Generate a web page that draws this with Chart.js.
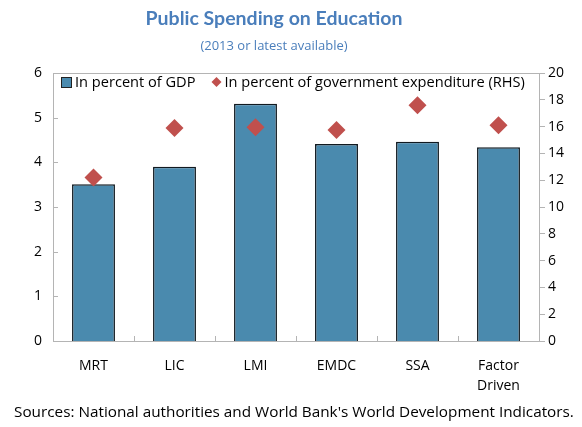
<!DOCTYPE html>
<html>
<head>
<meta charset="utf-8">
<script src="https://cdn.jsdelivr.net/npm/chart.js@4/dist/chart.umd.min.js"></script>
<style>
  html, body { margin: 0; padding: 0; background: #fff; }
  #wrap { position: relative; width: 582px; height: 427px; overflow: hidden; font-family: "Open Sans", "Noto Sans", sans-serif; }
  #title { position: absolute; left: 0; width: 548px; top: 6px; text-align: center; font-weight: bold; font-size: 19.5px; color: #4a7ebb; font-family: Lato, "Open Sans", sans-serif; }
  #subtitle { position: absolute; left: 0; width: 548px; top: 36px; text-align: center; font-size: 13px; color: #4a7ebb; }
  #source { position: absolute; left: 14px; top: 401px; font-size: 15.3px; color: #000; white-space: nowrap; }
  canvas { position: absolute; left: 0; top: 0; }
</style>
</head>
<body>
<div id="wrap">
  <canvas id="c" width="582" height="427"></canvas>
  <div id="title">Public Spending on Education</div>
  <div id="subtitle">(2013 or latest available)</div>
  <div id="source">Sources: National authorities and World Bank's World Development Indicators.</div>
</div>
<script>
const categories = ["MRT", "LIC", "LMI", "EMDC", "SSA", ["Factor", "Driven"]];
const pctGDP = [3.51, 3.90, 5.31, 4.41, 4.46, 4.34];
const pctGovExp = [12.2, 15.9, 15.95, 15.75, 17.6, 16.1];
const leftTicks = [0, 1, 2, 3, 4, 5, 6];
const rightTicks = [0, 2, 4, 6, 8, 10, 12, 14, 16, 18, 20];

const AXIS = '#b4b4b4';
const FONT = '"Open Sans", "Noto Sans", sans-serif';

const decor = {
  id: 'decor',
  afterDraw(chart) {
    const ctx = chart.ctx;
    const a = chart.chartArea;
    const x = chart.scales.x, y = chart.scales.y;
    ctx.save();
    ctx.strokeStyle = AXIS;
    ctx.lineWidth = 1;
    ctx.beginPath();
    ctx.moveTo(a.left, a.top + 0.5);
    ctx.lineTo(a.right, a.top + 0.5);
    ctx.stroke();
    y.ticks.forEach((t, i) => {
      const py = Math.round(y.getPixelForTick(i)) + 0.5;
      ctx.beginPath();
      ctx.moveTo(a.left, py);
      ctx.lineTo(a.left + 5, py);
      ctx.stroke();
    });
    const n = x.ticks.length;
    const half = (x.getPixelForTick(1) - x.getPixelForTick(0)) / 2;
    for (let i = 1; i < n; i++) {
      const px = Math.round(x.getPixelForTick(i) - half) + 0.5;
      ctx.beginPath();
      ctx.moveTo(px, a.bottom);
      ctx.lineTo(px, a.bottom - 5);
      ctx.stroke();
    }
    const ds = chart.data.datasets;
    const bar = ds.find(d => d.type === 'bar');
    const pts = ds.find(d => d.type === 'line');
    ctx.font = '14.6px ' + FONT;
    ctx.textBaseline = 'middle';
    const lx = a.left + 8, ly = a.top + 9;
    ctx.fillStyle = bar.backgroundColor;
    ctx.fillRect(lx, ly - 5, 11, 11);
    ctx.strokeStyle = '#222';
    ctx.strokeRect(lx + 0.5, ly - 4.5, 10, 10);
    ctx.fillStyle = '#000';
    ctx.fillText(bar.label, lx + 14, ly + 1);
    const lx2 = lx + 14 + ctx.measureText(bar.label).width + 21;
    ctx.fillStyle = pts.backgroundColor;
    ctx.beginPath();
    ctx.moveTo(lx2, ly - 5); ctx.lineTo(lx2 + 5, ly); ctx.lineTo(lx2, ly + 5); ctx.lineTo(lx2 - 5, ly); ctx.closePath();
    ctx.fill();
    ctx.fillStyle = '#000';
    ctx.fillText(pts.label, lx2 + 8, ly + 1);
    ctx.restore();
  }
};

new Chart(document.getElementById('c'), {
  data: {
    labels: categories,
    datasets: [
      {
        type: 'bar',
        label: 'In percent of GDP',
        data: pctGDP,
        yAxisID: 'y',
        backgroundColor: '#4a8aae',
        borderColor: '#111a20',
        borderWidth: 1.5,
        categoryPercentage: 1,
        barPercentage: 0.53,
        order: 1
      },
      {
        type: 'line',
        label: 'In percent of government expenditure (RHS)',
        data: pctGovExp,
        yAxisID: 'y2',
        showLine: false,
        pointStyle: 'rectRot',
        pointRadius: 9,
        pointHoverRadius: 9,
        backgroundColor: '#c0504d',
        borderColor: '#c0504d',
        borderWidth: 0,
        order: 0
      }
    ]
  },
  options: {
    responsive: false,
    animation: false,
    layout: { padding: { top: 73, left: 0, right: 0, bottom: 0 } },
    plugins: { legend: { display: false }, tooltip: { enabled: false }, title: { display: false } },
    scales: {
      x: {
        offset: true,
        grid: { display: false, drawTicks: false },
        border: { display: true, color: AXIS },
        ticks: { color: '#000', font: { family: FONT, size: 14, lineHeight: 1.45 }, padding: 15, maxRotation: 0, autoSkip: false },
        afterFit(s) { s.height = 86; }
      },
      y: {
        position: 'left',
        min: 0, max: 6,
        afterBuildTicks(s) { s.ticks = leftTicks.map(v => ({ value: v })); },
        grid: { display: false, drawTicks: false },
        border: { display: true, color: AXIS },
        ticks: { color: '#000', font: { family: FONT, size: 14 }, padding: 11 },
        afterFit(s) { s.width = 53; }
      },
      y2: {
        position: 'right',
        min: 0, max: 20,
        afterBuildTicks(s) { s.ticks = rightTicks.map(v => ({ value: v })); },
        grid: { display: true, drawOnChartArea: false, drawTicks: true, tickLength: 6, color: AXIS },
        border: { display: true, color: AXIS },
        ticks: { color: '#000', font: { family: FONT, size: 14 }, padding: 3 },
        afterFit(s) { s.width = 43; }
      }
    }
  },
  plugins: [decor]
});
</script>
</body>
</html>
